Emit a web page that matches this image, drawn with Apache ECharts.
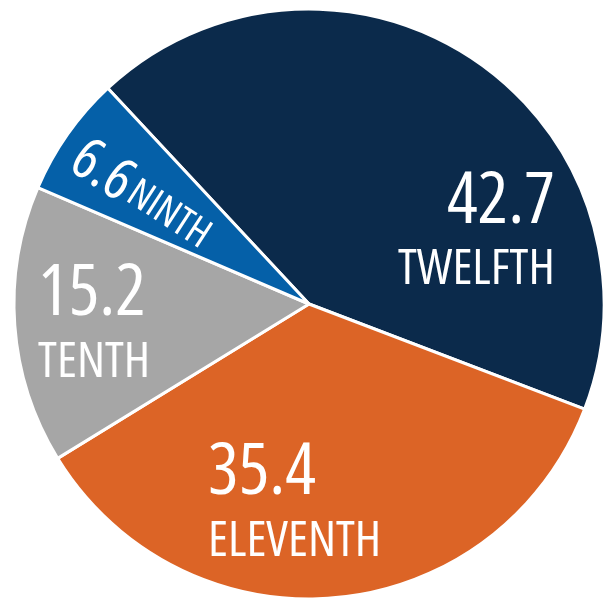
<!DOCTYPE html>
<html>
<head>
<meta charset="utf-8">
<script src="https://cdn.jsdelivr.net/npm/echarts@6/dist/echarts.min.js"></script>
<style>
  html, body { margin: 0; padding: 0; background: #fff; }
  #chart { width: 608px; height: 600px; }
</style>
</head>
<body>
<div id="chart"></div>
<script>
// grade shares, clockwise from the top-left
const grades = ["TWELFTH", "ELEVENTH", "TENTH", "NINTH"];
const shares = [42.7, 35.4, 15.2, 6.6];
const colors = ["#0b2a4b", "#dc6426", "#a6a6a6", "#0560a8"];

// Open Sans is a width-variable font here, "condensed" gives the narrow cut
const FONT = '"Open Sans", sans-serif';
const CX = 309, CY = 304, R = 295;

// anchor of each label block (angle in degrees, fraction of radius) - the anchor is the aligned edge
const labelSpots = [
  { ang: 16.3, frac: 0.868, align: "right", rotate: 0 },
  { ang: -116.8, frac: 0.759, align: "left", rotate: 0 },
  { ang: 184.4, frac: 0.921, align: "left", rotate: 0 },
  { ang: 147.5, frac: 0.675, align: "center", rotate: -33 }
];

const chart = echarts.init(document.getElementById("chart"));

const data = grades.map((name, i) => {
  const spot = labelSpots[i];
  const big = i === 3 ? 58 : 72;
  const small = i === 3 ? 40 : 50;
  const txt = { color: "#fff", fontFamily: FONT, fontWeight: "condensed", align: spot.align };
  return {
    name: name,
    value: shares[i],
    itemStyle: { color: colors[i] },
    label: {
      rotate: spot.rotate,
      formatter: i === 3 ? "{v|{c}} {n|{b}}" : "{v|{c}}\n{n|{b}}",
      rich: {
        v: Object.assign({ fontSize: big, lineHeight: big * 1.05 }, txt),
        n: Object.assign({ fontSize: small, lineHeight: small * 1.2 }, txt)
      }
    }
  };
});

chart.setOption({
  animation: false,
  series: [{
    type: "pie",
    center: [CX, CY],
    radius: R,
    startAngle: 133,
    clockwise: true,
    data: data,
    itemStyle: { borderColor: "#fff", borderWidth: 3 },
    label: { show: true, position: "inside", color: "#fff" },
    labelLine: { show: false },
    labelLayout: function (params) {
      const spot = labelSpots[params.dataIndex];
      const a = spot.ang * Math.PI / 180;
      return {
        x: CX + R * spot.frac * Math.cos(a),
        y: CY - R * spot.frac * Math.sin(a),
        align: spot.align,
        verticalAlign: "middle"
      };
    }
  }]
});
</script>
</body>
</html>
